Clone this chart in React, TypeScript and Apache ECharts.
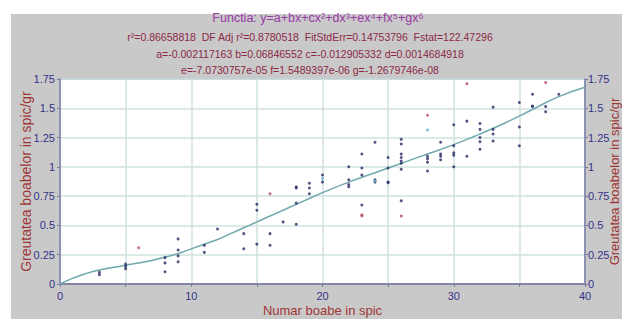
import React, { useEffect, useRef } from "react";
import * as echarts from "echarts";

const titleLines = [
  "Functia: y=a+bx+cx²+dx³+ex⁴+fx⁵+gx⁶",
  "r²=0.86658818  DF Adj r²=0.8780518  FitStdErr=0.14753796  Fstat=122.47296",
  "a=-0.002117163 b=0.06846552 c=-0.012905332 d=0.0014684918",
  "e=-7.0730757e-05 f=1.5489397e-06 g=-1.2679746e-08",
];

const xAxisName = "Numar boabe in spic";
const yAxisName = "Greutatea boabelor in spic/gr";

const curveX = [0, 1, 2, 3, 4, 5, 6, 7, 8, 9, 10, 11, 12, 13, 14, 15, 16, 17, 18, 19, 20, 22, 24, 26, 28, 30, 32, 34, 36, 38, 40];
const curveY = [0.0, 0.05, 0.09, 0.12, 0.14, 0.16, 0.18, 0.2, 0.23, 0.26, 0.3, 0.34, 0.38, 0.43, 0.48, 0.53, 0.58, 0.63, 0.68, 0.73, 0.78, 0.87, 0.95, 1.03, 1.11, 1.19, 1.28, 1.38, 1.49, 1.6, 1.68];

const pointsNavy: number[][] = [
  [3, 0.1], [3, 0.08], [5, 0.17], [5, 0.15], [5, 0.13], [8, 0.225], [8, 0.18], [8, 0.105],
  [9, 0.385], [9, 0.29], [9, 0.24], [9, 0.19], [11, 0.33], [11, 0.27], [12, 0.47], [14, 0.43],
  [14, 0.3], [15, 0.68], [15, 0.63], [15, 0.34], [16, 0.43], [16, 0.33], [17, 0.53],
  [18, 0.83], [18, 0.82], [18, 0.69], [18, 0.51], [19, 0.86], [19, 0.82], [19, 0.77], [20, 0.93],
  [20, 0.87], [22, 1.0], [22, 0.89], [22, 0.85], [22, 0.83], [23, 1.11], [23, 0.99], [23, 0.93],
  [23, 0.675], [24, 1.21], [24, 0.89], [24, 0.87], [25, 1.08], [25, 0.99], [25, 0.87],
  [25, 0.865], [26, 1.235], [26, 1.195], [26, 1.11], [26, 1.08], [26, 1.05], [26, 1.03], [26, 0.98],
  [26, 0.71], [28, 1.09], [28, 1.07], [28, 1.04], [28, 0.965], [29, 1.21], [29, 1.11],
  [29, 1.09], [29, 1.06], [30, 1.36], [30, 1.18], [30, 1.12], [30, 1.1], [30, 1.0], [31, 1.39],
  [31, 1.09], [32, 1.37], [32, 1.32], [32, 1.25], [32, 1.215], [32, 1.15], [33, 1.51], [33, 1.32],
  [33, 1.28], [33, 1.22], [35, 1.55], [35, 1.34], [35, 1.18], [36, 1.62], [36, 1.52], [36, 1.515],
  [37, 1.515], [37, 1.47], [38, 1.62],
];
const pointsRed: number[][] = [[6, 0.31], [16, 0.77], [23, 0.59], [23, 0.58], [26, 0.58], [28, 1.44], [31, 1.71], [37, 1.72]];
const pointsCyan: number[][] = [[28, 1.315], [20, 0.9], [24, 0.88]];

const xTicks = [0, 10, 20, 30, 40];

const FONT = "'Liberation Sans Narrow', 'Arial Narrow', 'Liberation Sans', sans-serif";
const NAVY = "#34348a";
const MAROON = "#a03535";

export default function App() {
  const ref = useRef<HTMLDivElement>(null);
  useEffect(() => {
    document.body.style.margin = "0";
    if (!ref.current) return;
    const chart = echarts.init(ref.current, undefined, { renderer: "svg" });
    const yAxisCommon = {
      type: "value" as const,
      min: 0,
      max: 1.75,
      interval: 0.25,
      name: yAxisName,
      nameLocation: "middle" as const,
      nameRotate: 90,
      nameMoveOverlap: false,
      axisLine: { show: true, lineStyle: { color: "#7b7ba6", width: 1.5 } },
      axisTick: { show: true, length: 3, lineStyle: { color: "#7b7ba6" } },
      splitLine: { show: true, lineStyle: { color: "#cfe2df", width: 1.5 } },
    };
    chart.setOption({
      animation: false,
      backgroundColor: "transparent",
      grid: {
        left: 60,
        top: 79,
        right: 37,
        bottom: 35,
        containLabel: false,
        outerBoundsMode: "none",
        show: true,
        backgroundColor: "#ffffff",
        borderColor: "#7b7ba6",
        borderWidth: 1,
      },
      graphic: titleLines.map((t, i) => ({
        type: "text",
        x: i === 0 ? 318 : 310,
        y: [18, 37, 54, 70][i],
        style: {
          text: t,
          fill: i === 0 ? "#9a3aa8" : "#8c2846",
          font: `${i === 0 ? 12.5 : 10.5}px ${FONT}`,
          textAlign: "center",
          textVerticalAlign: "middle",
        },
      })),
      xAxis: {
        type: "value",
        min: 0,
        max: 40,
        interval: 5,
        name: xAxisName,
        nameLocation: "middle",
        nameGap: 20,
        nameMoveOverlap: false,
        nameTextStyle: { color: MAROON, fontSize: 13, fontFamily: FONT },
        axisLine: { show: true, onZero: false, lineStyle: { color: "#8585a8", width: 2 } },
        axisTick: { show: true, length: 3, lineStyle: { color: "#7b7ba6" } },
        axisLabel: {
          color: NAVY,
          fontSize: 11,
          fontFamily: FONT,
          margin: 6,
          formatter: (v: number) => (xTicks.includes(v) ? String(v) : ""),
        },
        splitLine: { show: true, lineStyle: { color: "#cfe2df", width: 1.5 } },
      },
      yAxis: [
        {
          ...yAxisCommon,
          position: "left",
          nameGap: 27,
          nameTextStyle: { color: MAROON, fontSize: 14, fontFamily: FONT },
          axisLabel: { color: NAVY, fontSize: 11, fontFamily: FONT, margin: 5 },
        },
        {
          ...yAxisCommon,
          position: "right",
          nameGap: 23,
          nameTextStyle: { color: MAROON, fontSize: 13, fontFamily: FONT },
          axisLabel: { color: NAVY, fontSize: 11, fontFamily: FONT, margin: 3 },
          splitLine: { show: false },
        },
      ],
      series: [
        {
          type: "line",
          data: curveX.map((x, i) => [x, curveY[i]]),
          smooth: true,
          showSymbol: false,
          lineStyle: { color: "#6fa9ad", width: 1.5 },
          z: 2,
        },
        {
          type: "scatter",
          data: pointsNavy,
          symbolSize: 3,
          itemStyle: { color: "#2a2a66" },
          z: 3,
        },
        {
          type: "scatter",
          data: pointsRed,
          symbolSize: 3,
          itemStyle: { color: "#b84a5a" },
          z: 3,
        },
        {
          type: "scatter",
          data: pointsCyan,
          symbolSize: 3,
          itemStyle: { color: "#5ab0c8" },
          z: 3,
        },
      ],
    });
    return () => chart.dispose();
  }, []);
  return (
    <div style={{ position: "relative", width: 622, height: 319, background: "#ffffff" }}>
      <div style={{ position: "absolute", left: 11, top: 14, right: 0, bottom: 0, background: "#c9c9c9" }} />
      <div ref={ref} style={{ position: "absolute", left: 0, top: 0, width: 622, height: 319 }} />
    </div>
  );
}
